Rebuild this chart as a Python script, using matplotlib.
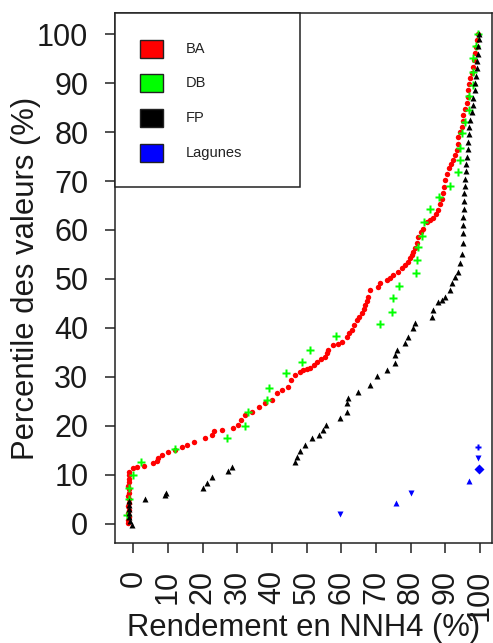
import matplotlib
matplotlib.use("Agg")
import matplotlib.pyplot as plt
from matplotlib.patches import Rectangle

plt.rcParams['font.family'] = ['Liberation Sans', 'DejaVu Sans']

# ---------------- data ----------------
ba_x = [-1.5, -1.5, -1.4, -1.5, -1.4, -1.5, -1.4, -1.4, -1.5, -1.4, -1.4, -1.5, -1.4, -1.4, -1.4, -1.3,
        0.0, 1.0, 3.2, 5.8, 6.8, 7.2, 8.2, 10.1, 12.0, 14.0, 15.4, 17.5, 20.7, 22.6, 23.3, 25.7,
        28.8, 30.3, 31.1, 32.2, 34.2, 36.1, 38.0, 39.9, 41.4, 42.8, 44.7, 45.5, 46.6,
        48.1, 49.0, 50.0, 51.0, 52.0, 52.9, 54.1, 55.3, 55.8, 56.2, 57.7, 58.9, 60.1, 61.6, 62.3,
        63.0, 63.7, 64.4, 65.2, 65.9, 66.4, 66.8, 67.3, 67.8, 68.3, 70.7, 71.2, 73.1, 74.0, 75.0,
        76.4, 77.4, 78.4, 79.1, 79.8, 80.3, 80.8, 81.3, 81.7, 82.2, 82.9, 83.6, 84.6, 85.6, 86.5,
        87.3, 88.0, 88.4, 88.9, 89.4, 89.6, 89.9, 90.4, 90.9, 91.6, 92.3, 92.8, 93.3, 93.5, 93.7,
        94.2, 94.7, 95.0, 95.2, 95.7, 96.2, 96.4, 96.6, 96.9, 97.1, 97.6, 98.1, 98.3, 98.6, 98.8,
        99.0, 99.5]
ba_y = [0.1, 0.8, 1.5, 2.2, 2.9, 3.6, 4.3, 5.0, 5.7, 6.4, 7.1, 7.8, 8.5, 9.2, 9.9, 10.6,
        11.4, 11.7, 11.8, 12.4, 12.9, 13.4, 14.1, 14.6, 15.1, 15.8, 16.1, 16.8, 17.5, 18.2, 19.0, 19.2,
        19.5, 20.2, 21.2, 22.2, 22.9, 23.9, 24.6, 25.3, 26.7, 27.3, 28.0, 29.4, 30.4,
        31.1, 31.4, 31.6, 31.8, 32.4, 33.1, 33.6, 34.1, 34.8, 35.5, 36.5, 36.8, 37.2, 38.2, 38.9,
        39.6, 40.6, 41.6, 42.3, 43.0, 43.9, 44.7, 45.6, 46.4, 47.8, 48.4, 49.2, 49.8, 50.3, 50.8,
        51.5, 52.2, 52.9, 53.5, 54.2, 54.9, 55.6, 56.4, 57.3, 58.6, 59.5, 60.3, 61.7, 62.0, 62.4,
        63.3, 64.1, 65.4, 66.4, 67.5, 68.8, 70.2, 71.4, 72.6, 73.5, 74.3, 75.3, 76.3, 77.6, 79.0,
        80.0, 81.1, 82.3, 83.5, 84.7, 85.9, 87.2, 88.6, 89.8, 91.0, 92.1, 93.3, 94.7, 96.1, 97.4,
        98.8, 100.0]

db_x = [-1.9, -1.2, -1.2, 0.0, 2.2, 12.0, 27.1, 32.2, 33.0, 38.6, 39.1, 43.9, 48.5, 50.9,
        58.4, 71.0, 74.5, 75.0, 76.7, 81.5, 81.9, 82.0, 83.2, 83.8, 85.6, 88.2, 91.3, 93.6,
        94.2, 94.2, 94.7, 95.7, 96.9, 96.9, 97.9, 97.9, 98.1, 98.8, 99.5]
db_y = [1.8, 5.0, 7.4, 9.9, 12.7, 15.2, 17.6, 20.0, 22.9, 25.3, 27.8, 30.8, 33.1, 35.5,
        38.4, 40.8, 43.3, 46.2, 48.6, 51.2, 53.9, 56.5, 58.8, 61.7, 64.2, 66.8, 69.0, 71.8,
        74.3, 76.8, 79.7, 82.1, 84.5, 87.3, 89.7, 92.3, 95.2, 97.6, 100.0]

fp_x = [-0.3, -1.0, -1.4, -1.4, -1.4, -1.4, -1.3, 3.4, 9.1, 9.3, 20.2, 21.2, 22.6, 27.4, 28.4,
        46.6, 47.1, 48.1, 49.5, 51.5, 53.4, 54.8, 55.6, 59.6, 61.6, 61.7, 62.0, 64.9, 68.3, 70.2,
        73.1, 75.5, 75.5, 76.0, 78.4, 79.3, 80.8, 81.1, 86.1, 86.5, 88.0, 89.0, 89.9, 91.3, 91.8,
        92.8, 93.7, 94.2, 94.7, 95.0, 95.2, 95.2, 95.2, 95.3, 95.4, 95.5, 95.7, 95.8, 95.9, 96.0,
        96.2, 96.4, 96.6, 96.8, 96.9, 97.2, 97.6, 97.9, 98.1, 98.4, 98.6, 98.9, 99.0, 99.2, 99.3,
        99.5, 99.6, 99.7]
fp_y = [-0.3, 0.6, 1.4, 2.2, 3.0, 3.8, 4.6, 5.0, 5.9, 6.3, 7.3, 8.3, 9.5, 10.7, 11.7,
        12.7, 13.7, 14.8, 16.1, 17.5, 18.2, 19.2, 20.2, 21.6, 22.9, 24.6, 25.6, 27.0, 28.4, 30.1,
        31.4, 32.8, 34.5, 35.6, 36.9, 38.2, 39.9, 41.0, 42.3, 43.7, 45.4, 45.7, 46.4, 47.8, 49.1,
        50.5, 51.5, 53.2, 55.2, 57.3, 59.3, 61.0, 62.7, 64.3, 66.0, 67.5, 69.0, 70.5, 72.0, 73.5,
        75.0, 76.5, 78.0, 79.5, 81.0, 82.5, 84.0, 85.5, 87.0, 88.5, 90.0, 91.5, 93.0, 94.5, 96.0,
        97.5, 99.0, 100.0]

lag_x = [59.6, 75.7, 80.1, 96.9, 99.7, 99.4, 99.3]
lag_y = [2.0, 4.2, 6.4, 8.8, 11.2, 13.4, 15.6]
lag_markers = ['v', '^', 'v', '^', 'D', 'v', 'P']

series_names = ['BA', 'DB', 'FP', 'Lagunes']
series_colors = ['#ff0000', '#00ff00', '#000000', '#0000ff']

x_ticks = [0, 10, 20, 30, 40, 50, 60, 70, 80, 90, 100]
y_ticks = [0, 10, 20, 30, 40, 50, 60, 70, 80, 90, 100]

# ---------------- figure ----------------
W, H = 493, 643
fig = plt.figure(figsize=(W / 100, H / 100), dpi=100)
L, R, T, B = 115, 491.5, 13, 543
ax = fig.add_axes([L / W, 1 - B / H, (R - L) / W, (B - T) / H])

ax.plot(ba_x, ba_y, linestyle='none', marker='o', ms=3.9, color=series_colors[0], mec='none')
ax.plot(db_x, db_y, linestyle='none', marker='P', ms=5.6, color=series_colors[1], mec='none')
ax.plot(fp_x, fp_y, linestyle='none', marker='^', ms=4.2, color=series_colors[2], mec='none')
for xx, yy, mk in zip(lag_x, lag_y, lag_markers):
    ax.plot([xx], [yy], linestyle='none', marker=mk, ms=4.6, color=series_colors[3], mec='none')

ax.set_xlim(-5.3, 103.3)
ax.set_ylim(-3.9, 104.3)
ax.set_xticks(x_ticks)
ax.set_xticklabels([str(v) for v in x_ticks], rotation=90)
ax.set_yticks(y_ticks)
ax.set_yticklabels([str(v) for v in y_ticks])
ax.tick_params(axis='both', direction='out', length=7.2, width=1.1, color='#222222',
               labelsize=22, labelcolor='#1a1a1a', pad=12)
for sp in ax.spines.values():
    sp.set_linewidth(1.1)
    sp.set_color('#222222')

ax.set_xlabel('Rendement en NNH4 (%)', fontsize=22.3, color='#1a1a1a', va='baseline')
ax.xaxis.set_label_coords(0.5, -(636 - B) / (B - T))
ax.set_ylabel('Percentile des valeurs (%)', fontsize=22.3, color='#1a1a1a', va='center')
ax.yaxis.set_label_coords(-(L - 26) / (R - L), 0.5)

# ---------------- legend (box drawn in axes coordinates) ----------------
def axx(px):
    return (px - L) / (R - L)

def axy(py):
    return (B - py) / (B - T)

ax.add_patch(Rectangle((axx(L), axy(187)), axx(300) - axx(L), axy(T) - axy(187),
                       transform=ax.transAxes, facecolor='white', edgecolor='#222222',
                       linewidth=1.1, zorder=5, clip_on=False))
centers = [49.2, 83.0, 117.8, 152.5]
for name, col, cy in zip(series_names, series_colors, centers):
    ax.add_patch(Rectangle((axx(140), axy(cy + 9)), axx(163.3) - axx(140), axy(cy - 9) - axy(cy + 9),
                           transform=ax.transAxes, facecolor=col, edgecolor='#222222',
                           linewidth=1.0, zorder=6, clip_on=False))
    ax.text(axx(186), axy(cy), name, transform=ax.transAxes, fontsize=10.5,
            color='#222222', va='center', ha='left', zorder=7)

fig.savefig('out.png', dpi=100)
